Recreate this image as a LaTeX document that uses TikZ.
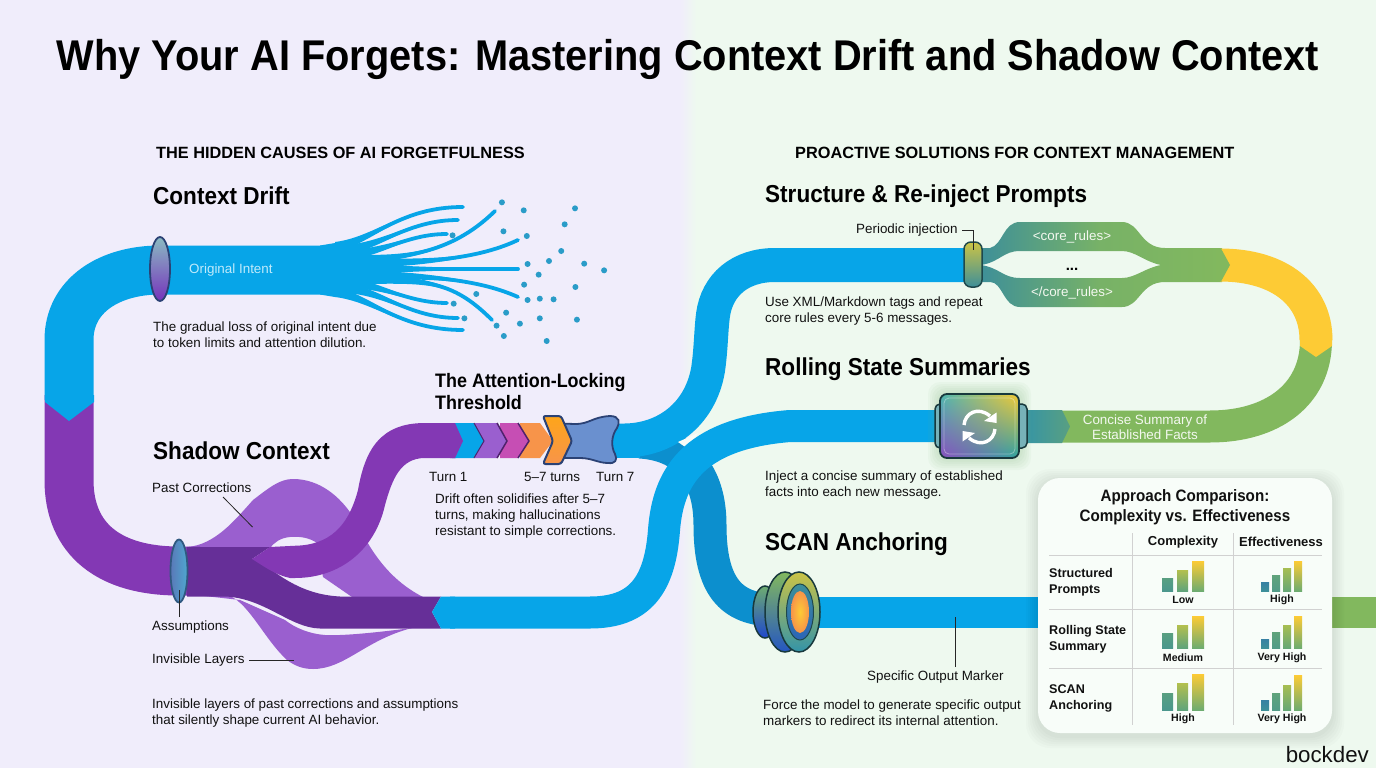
\documentclass[tikz,border=0pt]{standalone}
\usepackage{fontspec}
\setmainfont{Liberation Sans}
\newfontfamily\cond[FakeStretch=0.92]{Liberation Sans}
\newfontfamily\condt[FakeStretch=0.925]{Liberation Sans}
\usetikzlibrary{calc,shadings}
\definecolor{bgL}{HTML}{F0EDFB}
\definecolor{bgR}{HTML}{EEF9EF}
\definecolor{pblue}{HTML}{07A5E8}
\definecolor{dblue}{HTML}{0C8FCE}
\definecolor{ppl}{HTML}{8338B4}
\definecolor{lppl}{HTML}{9A5FCF}
\definecolor{dppl}{HTML}{662F98}
\definecolor{grn}{HTML}{82B85E}
\definecolor{yel}{HTML}{FDCB35}
\definecolor{teal1}{HTML}{3D8F99}
\definecolor{dots}{HTML}{2A9CC8}
\definecolor{ink}{HTML}{111111}
\definecolor{outl}{HTML}{2B4275}
\definecolor{orng}{HTML}{F7944A}
\definecolor{mgnt}{HTML}{C64EB4}
\definecolor{bfly}{HTML}{6A90CF}
\definecolor{bUL}{HTML}{4CB8B0}
\definecolor{bUR}{HTML}{F5C934}
\definecolor{bLL}{HTML}{8A4FBF}
\definecolor{bLR}{HTML}{2EA6A0}
\definecolor{elA}{HTML}{4FA8D0}
\definecolor{elB}{HTML}{5A78B8}
\newcommand{\strand}[8]{%
  \fill[pblue] (#1,#2-5) .. controls (#3,#4-3) and (#5,#6) .. (#7,#8) .. controls (#5,#6) and (#3,#4+3) .. (#1,#2+5) -- cycle;
  \draw[pblue,line width=3.8pt,line cap=round] (#1,#2) .. controls (#3,#4) and (#5,#6) .. (#7,#8);}
\tikzset{
  body/.style={font=\fontsize{13.4}{16}\selectfont,anchor=west,align=left,inner sep=0pt,text=ink},
  lab/.style={font=\fontsize{13.4}{16}\selectfont,anchor=west,inner sep=0pt,text=ink},
  head/.style={font=\cond\fontsize{24.5}{28}\selectfont\bfseries,anchor=west,inner sep=0pt,text=black},
  sect/.style={font=\fontsize{16.3}{18}\selectfont\bfseries,anchor=west,inner sep=0pt,text=black},
  pipetxt/.style={font=\fontsize{13.4}{15}\selectfont,align=center,inner sep=0pt},
  tb/.style={font=\fontsize{13}{16}\selectfont\bfseries,inner sep=0pt,text=ink},
  tbl/.style={font=\fontsize{12.6}{16}\selectfont\bfseries,inner sep=0pt,text=ink,anchor=west,align=left},
  ts/.style={font=\fontsize{10.6}{12}\selectfont\bfseries,inner sep=0pt,text=ink},
  leader/.style={draw=black!85,line width=0.8pt},
  grid/.style={draw=black!18,line width=0.7pt}
}
\begin{document}
\begin{tikzpicture}[x=1pt,y=-1pt]
\useasboundingbox (0,0) rectangle (1376,768);
% background
\fill[bgL] (0,0) rectangle (680,768);
\fill[bgR] (696,0) rectangle (1376,768);
\shade[left color=bgL,right color=bgR] (680,0) rectangle (696,768);

% light lobes
\fill[lppl] (187,547) .. controls (215,545) and (235,520) .. (253,500) .. controls (270,487) and (280,479) .. (293,479)
  .. controls (320,479) and (340,497) .. (352,515) .. controls (365,537) and (380,575) .. (423,597)
  -- (352,597) -- (323,577) -- (320,560) -- (317,543) .. controls (310,538) and (300,536) .. (290,537)
  .. controls (280,538) and (275,542) .. (270,548) -- cycle;
\fill[lppl] (187,594) -- (230,596) .. controls (250,605) and (265,640) .. (287,660) .. controls (295,666) and (303,669) .. (313,669)
  .. controls (345,669) and (365,640) .. (412,628) .. controls (380,632) and (345,636) .. (325,635)
  .. controls (310,634) and (295,628) .. (285,620) -- (240,600) -- cycle;

% main purple
\draw[ppl,line width=49pt] (69,395) -- (69,480) .. controls (69,540) and (110,571) .. (179,571) -- (200,571);
% dark band
\fill[dppl] (187,547) -- (270,547) -- (252,559) .. controls (268,562) and (290,594) .. (340,596.5) -- (441,596.5) -- (432,612) -- (441,628.5) -- (320,628.5)
  .. controls (290,628) and (265,598) .. (225,596.5) -- (187,596.5) -- cycle;
% upper purple pipe
\fill[ppl] (252,559) -- (270,547) -- (300,545.5) .. controls (335,543) and (350,520) .. (358,490)
  .. controls (365,450) and (380,423) .. (425,423) -- (456,423) -- (456,458) -- (425,458)
  .. controls (400,458) and (392,480) .. (385,505)
  .. controls (375,550) and (340,578) .. (295,578) -- (290,578) .. controls (275,575) and (262,565) .. (252,559) -- cycle;

% SCAN branch (behind)
\draw[dblue,line width=33pt] (640,442) .. controls (690,445) and (710,480) .. (710,525) .. controls (710,585) and (730,610) .. (775,610);
% upper blue
\draw[pblue,line width=34pt] (610,440.5) -- (625,440.5) .. controls (665,440) and (700,415) .. (708,370) .. controls (711,350) and (711,330) .. (713,315) .. controls (717,285) and (740,265) .. (775,265) -- (968,265);
\fill[white!55!bgR] (678,442) -- (698,433) -- (688,449) -- cycle;
% rolling blue
\fill[pblue] (441,596.5) -- (432,612) -- (441,628.5) -- (455,628.5) -- (455,596.5) -- cycle;
\draw[pblue,line width=32pt] (450,612.5) -- (590,612.5) .. controls (640,612.5) and (660,585) .. (664,530) .. controls (668,480) and (690,434) .. (790,426) -- (945,426);

% blue pipe top with chevron
\fill[pblue] (45,395) -- (45,402) -- (69,421) -- (94,402) -- (94,395) -- cycle;
\draw[pblue,line width=49pt] (69,400) -- (69,340) .. controls (69,295) and (110,270) .. (160,270) -- (332,270);
% fan
\fill[pblue] (320,245.5) -- (335,243) -- (370,262) -- (378,266) -- (372,270) -- (378,274) -- (370,279) -- (335,297) -- (320,294.5) -- cycle;
\strand{335}{247}{375}{240}{400}{207}{463}{207}
\strand{345}{250}{385}{245}{410}{220}{458}{220}
\strand{350}{255}{390}{250}{410}{234}{447}{234}
\strand{335}{259}{400}{260}{450}{255}{495}{211}
\strand{360}{263}{430}{263}{480}{258}{518}{240}
\strand{355}{269}{410}{269}{470}{269}{518}{269}
\strand{355}{275}{430}{275}{480}{280}{518}{297}
\strand{365}{279}{430}{280}{455}{283}{492}{320}
\strand{350}{283}{385}{286}{410}{303}{447}{303}
\strand{345}{288}{385}{292}{410}{318}{458}{318}
\strand{335}{292}{375}{299}{400}{330}{463}{330}
\foreach \a/\b in {1207/67,1264/91,1398/85,1371/133,1211/154,1272/168,1078/166,1362/213,1330/243,1274/252,1422/251,1474/271,1303/284,1265/314,1399/321,1140/342,1274/360,1306/356,1342/358,1081/371,1218/398,1109/415,1306/415,1403/419,1254/431,1193/437,1212/468,1324/483}
  \fill[dots] ({40+\a/2.613},{180+\b/3}) circle (3pt);

% ellipses
\shade[top color=teal1!60!white,bottom color=ppl!90!blue,draw=outl,line width=1.8pt] (160,269) ellipse (10pt and 32pt);
\shade[left color=elB,right color=elA,draw=teal1!30!outl,line width=1.8pt] (179,571) ellipse (8.5pt and 31.5pt);

% chevrons
\fill[pblue] (610,423.5) rectangle (640,457.5);
\fill[orng] (520,423) -- (540,423) -- (553,441) -- (540,458) -- (520,458) -- cycle;
\fill[mgnt] (500,423) -- (518,423) -- (529,441) -- (518,458) -- (500,458) -- cycle;
\draw[ppl!60!black,line width=1.5pt] (518,423) -- (529,441) -- (518,458);
\fill[lppl] (475,423) -- (497,423) -- (507,441) -- (497,458) -- (475,458) -- cycle;
\draw[ppl!60!black,line width=1.5pt] (497,423) -- (507,441) -- (497,458);
\fill[pblue] (452,423) -- (474,423) -- (484,441) -- (474,458) -- (452,458) -- cycle;
\draw[ppl!60!black,line width=1pt] (474,423) -- (484,441) -- (474,458);
\fill[ppl] (450,423) -- (455,423) -- (463,441) -- (455,458) -- (450,458) -- cycle;
% butterfly
\draw[fill=bfly,draw=outl,line width=1.8pt] (560,423.5) -- (575,424) .. controls (590,424) and (592,417) .. (610,416)
  .. controls (620,416) and (620,423) .. (617,428) .. controls (611,436) and (611,447) .. (615,454)
  .. controls (618,460) and (615,464) .. (608,463) .. controls (598,463) and (592,458) .. (580,458) -- (560,458) -- cycle;
% bright chevron
\shade[top color=yel!50!orange,bottom color=orng,draw=outl,line width=2pt,rounded corners=2.5pt] (543,416) -- (561,416) -- (572,441) -- (561,464) -- (543,464) -- (553,441) -- cycle;

% split bands
\shade[left color=teal1,right color=grn,middle color=grn!85!teal1,even odd rule]
  (978,248) -- (990,248) .. controls (1003,245) and (1003,222) .. (1020,222) -- (1122,222)
  .. controls (1140,222) and (1140,248) .. (1165,248) -- (1222,248) -- (1222,282) -- (1165,282)
  .. controls (1140,282) and (1140,307) .. (1122,307) -- (1020,307)
  .. controls (1003,307) and (1003,282) .. (990,282) -- (978,282) -- cycle
  (981,265) .. controls (1000,262) and (1003,251) .. (1020,251) -- (1122,251) .. controls (1135,251) and (1145,262) .. (1161,265)
  .. controls (1145,268) and (1135,278) .. (1122,278) -- (1020,278) .. controls (1003,278) and (1000,268) .. (981,265) -- cycle;
\shade[top color=yel!60!grn,bottom color=teal1,draw=teal1!50!black,line width=1.5pt,rounded corners=7pt] (964,242) rectangle (982,287);

% right loop
\draw[grn,line width=32pt] (1060,426.5) -- (1210,426.5) .. controls (1272,426.5) and (1316,395) .. (1316,340);
\fill[yel] (1300,346) -- (1316,357) -- (1332,346) -- (1332,335) -- (1300,335) -- cycle;
\draw[yel,line width=33pt] (1220,265) .. controls (1280,265) and (1316,295) .. (1316,340);
\fill[grn] (1216,248.5) -- (1221,248.5) -- (1230,265) -- (1221,281.5) -- (1216,281.5) -- cycle;
\shade[left color=teal1!80!pblue,right color=teal1!60!grn] (1020,410) -- (1062,410) -- (1070,426.5) -- (1062,443) -- (1020,443) -- cycle;

% SCAN line
\fill[pblue] (815,597) rectangle (1045,628);
\fill[grn] (1330,597) rectangle (1376,627.5);

% badge glow
\foreach \g in {12,10,8,6,4,2}
  \fill[bUR!40!bLR,opacity=.055,rounded corners=12pt] (940-\g,394-\g) rectangle (1019+\g,458+\g);
\draw[fill=teal1!70!white,draw=teal1!40!black,line width=1.5pt,rounded corners=5pt] (935,404) rectangle (1027,448);
\shade[upper left=bUL,upper right=bUR,lower left=bLL,lower right=bLR,draw=teal1!40!black,line width=1.8pt,rounded corners=7pt] (940,394) rectangle (1019,458);
\draw[white,opacity=.35,line width=.8pt,rounded corners=5pt] (944,398) rectangle (1015,454);
\draw[white,line width=3.4pt] (964,425) .. controls (965,413) and (978,406) .. (990,416);
\draw[white,line width=3.4pt] (995,429) .. controls (994,441) and (981,448) .. (969,438);
\fill[white] (996.5,412.5) -- (996.5,423) -- (984,421) -- cycle;
\fill[white] (962.5,441.5) -- (962.5,431) -- (975,433) -- cycle;

% SCAN anchor
\shade[top color=grn!70!teal1,bottom color=teal1!50!blue,draw=teal1!40!black,line width=1.5pt] (765,612) ellipse (12pt and 26pt);
\shade[top color=grn,bottom color=teal1!60!blue,draw=teal1!40!black,line width=1.5pt] (785,612) ellipse (20pt and 40pt);
\shade[top color=yel!60!grn,bottom color=teal1!80!pblue,draw=teal1!40!black,line width=1.5pt] (799,612) ellipse (21pt and 40pt);
\shade[top color=teal1,bottom color=teal1!70!blue,draw=teal1!50!black,line width=1pt] (800,612) ellipse (13.5pt and 28pt);
\shade[inner color=yel,outer color=orng] (800,612) ellipse (9pt and 21pt);

% card
\foreach \g in {12,10,8,6,4,2}
  \fill[black,opacity=.014,rounded corners=24pt] (1038-\g,478-\g+3) rectangle (1332+\g,733+\g+3);
\fill[white!60!bgR,rounded corners=22pt] (1038,478) rectangle (1332,733);
\draw[grid] (1132,533) -- (1132,725);
\draw[grid] (1233,533) -- (1233,725);
\draw[grid] (1049,555) -- (1322,555);
\draw[grid] (1049,609) -- (1322,609);
\draw[grid] (1049,668) -- (1322,668);

% bars
\foreach \bot/\ta/\tb/\tc in {591/578/570/561,648/633/625/616,710/693/683/674}{
  \shade[top color=teal1!60!grn,bottom color=teal1!80!grn] (1162,\ta) rectangle (1173,\bot);
  \shade[top color=yel!40!grn,bottom color=teal1!50!grn] (1177,\tb) rectangle (1188,\bot);
  \shade[top color=yel,bottom color=teal1!30!grn] (1192,\tc) rectangle (1204,\bot);
}
\foreach \bot/\ta/\tb/\tc/\td in {591/582/575/568/561,648/639/632/625/616,710/700/693/685/675}{
  \shade[top color=teal1!90!blue,bottom color=teal1] (1261,\ta) rectangle (1269,\bot);
  \shade[top color=teal1!50!grn,bottom color=teal1!70!grn] (1272,\tb) rectangle (1280,\bot);
  \shade[top color=yel!30!grn,bottom color=teal1!40!grn] (1283,\tc) rectangle (1291,\bot);
  \shade[top color=yel,bottom color=teal1!30!grn] (1294,\td) rectangle (1302,\bot);
}

% texts
\node[font=\condt\fontsize{43}{46}\selectfont\bfseries,inner sep=0pt,text=black] (title) at (688,59) {Why Your AI Forgets: Mastering Context Drift and Shadow Context};
\node[sect] (s1) at (156,152.5) {THE HIDDEN CAUSES OF AI FORGETFULNESS};
\node[sect] (s2) at (795,152.5) {PROACTIVE SOLUTIONS FOR CONTEXT MANAGEMENT};
\node[head] (h1) at (153,195.5) {Context Drift};
\node[head] (h2) at (153,451) {Shadow Context};
\node[head,font=\cond\fontsize{19.5}{22}\selectfont\bfseries,align=left] (h3) at (435,392) {The Attention-Locking\\Threshold};
\node[head] (h4) at (765,196.5) {Structure \& Re-inject Prompts};
\node[head] (h5) at (765,369.5) {Rolling State Summaries};
\node[head] (h6) at (765,544.5) {SCAN Anchoring};
\node[pipetxt,text=cyan!25!white,anchor=west] (oi) at (189,270) {Original Intent};
\node[body] (b1) at (153,335) {The gradual loss of original intent due\\to token limits and attention dilution.};
\node[lab] (pc) at (152,488) {Past Corrections};
\node[lab] (as) at (152,627.5) {Assumptions};
\node[lab] (il) at (152,660) {Invisible Layers};
\node[body] (b2) at (152,713) {Invisible layers of past corrections and assumptions\\that silently shape current AI behavior.};
\node[lab] (t1) at (429,477) {Turn 1};
\node[lab] (t2) at (524,477) {5–7 turns};
\node[lab] (t3) at (596,477) {Turn 7};
\node[body] (b3) at (435,516) {Drift often solidifies after 5–7\\turns, making hallucinations\\resistant to simple corrections.};
\node[lab] (pi) at (856,230) {Periodic injection};
\node[pipetxt,text=white!90!grn] (c1) at (1072,237) {<core\_rules>};
\node[pipetxt,text=black,font=\fontsize{15}{15}\selectfont\bfseries] (c2) at (1072,269) {...};
\node[pipetxt,text=white!90!grn] (c3) at (1072,293) {</core\_rules>};
\node[body] (b4) at (765,311) {Use XML/Markdown tags and repeat\\core rules every 5-6 messages.};
\node[pipetxt,text=white!90!grn] (cs) at (1145,427) {Concise Summary of\\Established Facts};
\node[body] (b5) at (765,485) {Inject a concise summary of established\\facts into each new message.};
\node[lab] (so) at (867,677.5) {Specific Output Marker};
\node[body] (b6) at (763,713) {Force the model to generate specific output\\markers to redirect its internal attention.};
\node[font=\cond\fontsize{16.5}{20}\selectfont\bfseries,align=center,inner sep=0pt,text=ink] (ct) at (1185,507) {Approach Comparison:\\Complexity vs. Effectiveness};
\node[tb] (k1) at (1183,542) {Complexity};
\node[tb] (k2) at (1281,542) {Effectiveness};
\node[tbl] (r1) at (1049,582) {Structured\\Prompts};
\node[tbl] (r2) at (1049,639) {Rolling State\\Summary};
\node[tbl] (r3) at (1049,698) {SCAN\\Anchoring};
\node[ts] (v1) at (1183,600) {Low};
\node[ts] (v2) at (1282,600) {High};
\node[ts] (v3) at (1183,657.5) {Medium};
\node[ts] (v4) at (1282,657.5) {Very High};
\node[ts] (v5) at (1183,719) {High};
\node[ts] (v6) at (1282,719) {Very High};
\node[font=\fontsize{22.3}{26}\selectfont,inner sep=0pt,anchor=east,text=ink] (bd) at (1369,755) {bockdev};

% leaders
\coordinate (pcE) at (252.5,527); \coordinate (pcS) at (223,497);
\coordinate (asE) at (179,590); \coordinate (asS) at (179,617);
\coordinate (ilE) at (294,660); \coordinate (ilS) at (249,660);
\coordinate (soE) at (955,617); \coordinate (soS) at (955,667);
\coordinate (piE) at (973.5,250); \coordinate (piS) at (962,230);
\draw[leader] (pcS) -- (pcE);
\draw[leader] (asS) -- (asE);
\draw[leader] (ilS) -- (ilE);
\draw[leader] (soS) -- (soE);
\draw[leader] (piS) -| (piE);
\end{tikzpicture}
\end{document}
